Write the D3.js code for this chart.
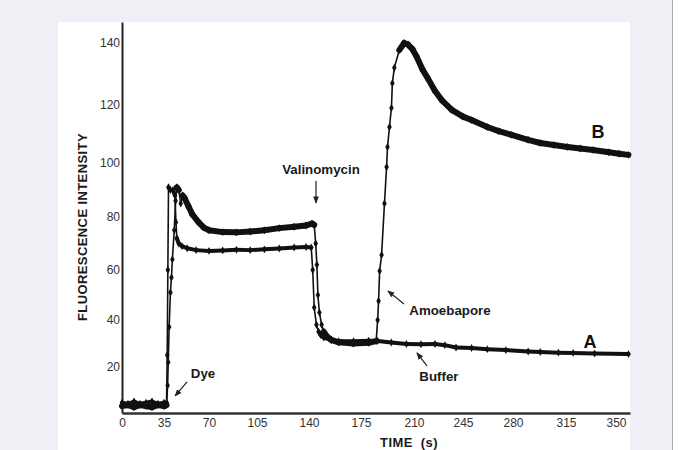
<!DOCTYPE html>
<html>
<head>
<meta charset="utf-8">
<style>
body { margin: 0; background: #eff0f6; }
svg { display: block; }
.tick text { font: 12px "Liberation Sans", Arial, sans-serif; fill: #333; }
.note { font: bold 13.3px "Liberation Sans", Arial, sans-serif; fill: #1a1a1a; }
.curve-name { font: bold 18px "Liberation Sans", Arial, sans-serif; fill: #111; }
.axis-title { font: bold 13px "Liberation Sans", Arial, sans-serif; fill: #1a1a1a; letter-spacing: 0.4px; }
</style>
</head>
<body>
<script src="https://cdn.jsdelivr.net/npm/d3@7"></script>
<script>

// tick labels (the scanned axes are a little uneven, so each tick gets its own anchor)
var xTicks = [0, 35, 70, 105, 140, 175, 210, 245, 280, 315, 350];
var yTicks = [20, 40, 60, 80, 100, 120, 140];

// curve A : buffer
var timeA = [0, 5, 10, 15, 20, 25, 30, 35, 37, 37.5, 38, 38.5, 40, 42, 43.5, 44.3, 45, 46.5, 49, 53, 60,
             70, 80, 90, 100, 110, 120, 130, 138, 141.5, 142.5, 143.5, 145, 146.5, 148, 150, 155, 160,
             170, 180, 186, 195, 205, 215, 225, 232, 240, 251, 262, 275, 290, 298, 310, 320, 335, 358];
var valueA = [4.5, 4, 5, 4, 4.5, 5, 4, 4.5, 4.5, 25, 60, 91, 90, 90, 88, 78, 72, 70, 69, 68.2, 67.5,
              67.2, 67.4, 67.6, 67.5, 67.8, 68.1, 68.5, 68.7, 68.5, 60, 45, 38, 35, 33.5, 32.5, 31.5, 31,
              31, 31.2, 31.1, 30.4, 29.8, 29.7, 29.8, 29.3, 28.3, 28.1, 27.6, 27.2, 26.6, 26.4, 26.1, 26, 25.7, 25.5];

// curve B : amoebapore
var timeB = [0, 5, 10, 15, 20, 25, 30, 35, 37, 37.8, 38.3, 39, 40, 40.8, 41.5, 43, 44, 45, 46.5, 48, 49.5,
             51, 54, 57, 62, 66, 70, 80, 90, 100, 110, 120, 130, 138, 142, 143.5, 144.5, 145.3, 146, 147,
             148.5, 150, 152, 155, 160, 170, 180, 185, 186, 186.6, 187.3, 188.6, 190.5, 191.9, 192.5,
             193.8, 195.1, 195.7, 197, 200.3, 203.5, 206, 209, 212, 216, 220, 225, 230, 237, 245, 251,
             262, 270, 279, 290, 298, 307, 316, 325, 334, 345, 352, 358];
var valueB = [3, 3.5, 2.5, 3.5, 3, 2.5, 3.5, 3, 3.5, 12, 22, 37, 51, 57, 64, 75, 86, 91, 90, 85, 88,
              87, 84, 81, 78, 76, 75, 74.3, 74.2, 74.5, 75, 75.8, 76.3, 76.8, 77.5, 77, 70, 62, 50, 43,
              38, 35, 33, 31.5, 30.5, 30, 30.3, 31, 40, 47.6, 59.6, 65.7, 85, 98.5, 105.5,
              112.4, 119, 127, 132, 137.7, 140, 139.5, 138, 135.5, 131.5, 128.5, 124.5, 121.5, 118.3, 116, 114.8,
              112.4, 111, 109.7, 108, 106.9, 106.2, 105.5, 105, 104.5, 103.7, 103.2, 102.8];

var width = 680,
    height = 450;

var svg = d3.select("body").append("svg")
    .attr("width", width)
    .attr("height", height);

// white sheet on the grey page
svg.append("rect")
    .attr("x", 58).attr("y", 22)
    .attr("width", 572).attr("height", 428)
    .attr("fill", "#fff");
svg.append("line")
    .attr("x1", 672.5).attr("x2", 672.5)
    .attr("y1", 0).attr("y2", height)
    .attr("stroke", "#a9abb3").attr("stroke-width", 1);
svg.append("rect")
    .attr("x", 673).attr("y", 0)
    .attr("width", 7).attr("height", height)
    .attr("fill", "#fff");

var x = d3.scaleLinear()
    .domain(xTicks.concat([359]))
    .range([122, 164, 209, 257, 309, 361, 414, 463, 513, 566, 616, 630]);

var y = d3.scaleLinear()
    .domain([0].concat(yTicks, [147]))
    .range([413, 367, 320, 270, 217, 163, 105, 43, 22]);

// axes
var xAxis = svg.append("g")
    .attr("transform", "translate(0,413)")
    .call(d3.axisBottom(x).tickValues(xTicks).tickSize(0).tickPadding(5));
xAxis.select(".domain").attr("stroke", "#333").attr("stroke-width", 2.5);

var yAxis = svg.append("g")
    .attr("transform", "translate(122,0)")
    .call(d3.axisLeft(y).tickValues(yTicks).tickSize(0).tickPadding(2));
yAxis.select(".domain").attr("stroke", "#222").attr("stroke-width", 2);

svg.append("text")
    .attr("class", "axis-title")
    .attr("transform", "translate(87,227) rotate(-90)")
    .attr("text-anchor", "middle")
    .text("FLUORESCENCE INTENSITY");

svg.append("text")
    .attr("class", "axis-title")
    .attr("x", 409).attr("y", 447)
    .attr("text-anchor", "middle")
    .attr("xml:space", "preserve")
    .text("TIME  (s)");

// curves: flat stretches look thick (dense noisy samples), fast jumps are thin with diamonds
function drawCurve(times, values, thick) {
  var pts = times.map(function(t, i) { return [x(t), y(values[i])]; });
  var g = svg.append("g");
  var segs = d3.pairs(pts);
  g.selectAll("line")
      .data(segs)
      .enter().append("line")
      .attr("x1", function(d) { return d[0][0]; })
      .attr("y1", function(d) { return d[0][1]; })
      .attr("x2", function(d) { return d[1][0]; })
      .attr("y2", function(d) { return d[1][1]; })
      .attr("stroke", "#111")
      .attr("stroke-linecap", "round")
      .attr("stroke-width", function(d) {
        var dx = Math.abs(d[1][0] - d[0][0]), dy = Math.abs(d[1][1] - d[0][1]);
        return (dy > 2.5 * dx && dy > 6) ? 1.6 : thick;
      });
  g.selectAll("path")
      .data(pts)
      .enter().append("path")
      .attr("transform", function(d) { return "translate(" + d[0] + "," + d[1] + ")"; })
      .attr("d", d3.symbol().type(d3.symbolDiamond).size(18))
      .attr("fill", "#111");
}

drawCurve(timeA, valueA, 4);
drawCurve(timeB, valueB, 6);

// arrows and notes
svg.append("defs").append("marker")
    .attr("id", "head")
    .attr("viewBox", "0 0 10 10")
    .attr("refX", 9).attr("refY", 5)
    .attr("markerWidth", 6).attr("markerHeight", 6)
    .attr("orient", "auto")
  .append("path")
    .attr("d", "M0,1L10,5L0,9Z")
    .attr("fill", "#222");

var notes = [
  {text: "Dye",         t: 43.6,  v: 7.4,  tail: [12, -14], lab: [28, -18]},
  {text: "Valinomycin", t: 144.7, v: 85.2, tail: [0, -22],  lab: [5, -29]},
  {text: "Amoebapore",  t: 192.8, v: 51.6, tail: [16, 13],  lab: [62, 24]},
  {text: "Buffer",      t: 212.1, v: 26,   tail: [10, 13],  lab: [22, 28]}
];

notes.forEach(function(n) {
  var px = x(n.t), py = y(n.v);
  svg.append("line")
      .attr("x1", px + n.tail[0]).attr("y1", py + n.tail[1])
      .attr("x2", px).attr("y2", py)
      .attr("stroke", "#222")
      .attr("stroke-width", 1.2)
      .attr("marker-end", "url(#head)");
  svg.append("text")
      .attr("class", "note")
      .attr("x", px + n.lab[0]).attr("y", py + n.lab[1])
      .attr("text-anchor", "middle")
      .text(n.text);
});

svg.append("text")
    .attr("class", "curve-name")
    .attr("x", x(331.8)).attr("y", y(30.6) + 6)
    .attr("text-anchor", "middle")
    .text("A");

svg.append("text")
    .attr("class", "curve-name")
    .attr("x", x(337.4)).attr("y", y(110.7) + 6)
    .attr("text-anchor", "middle")
    .text("B");

</script>
</body>
</html>
